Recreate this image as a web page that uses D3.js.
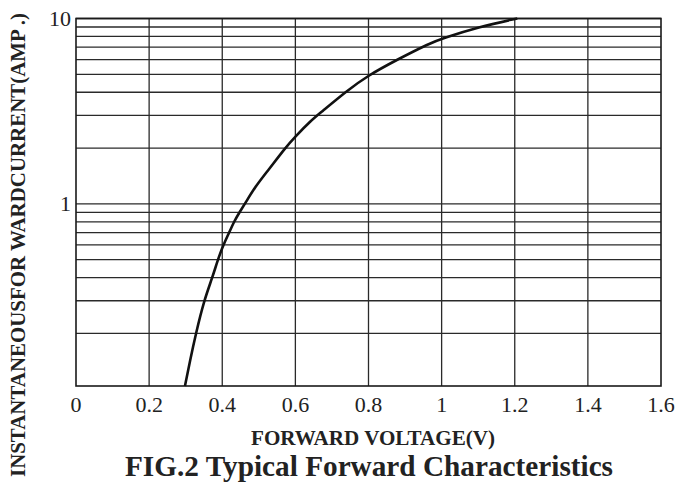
<!DOCTYPE html>
<html><head><meta charset="utf-8">
<script src="https://cdn.jsdelivr.net/npm/d3@7"></script>
<style>body{margin:0;background:#fff}svg{display:block}text{font-family:"Liberation Serif","Times New Roman",Times,serif}</style>
</head><body>
<svg id="c" width="675" height="483"></svg>
<script>
// Data
const voltage = [0.298,0.312,0.328,0.350,0.373,0.388,0.403,0.419,0.432,0.447,0.462,0.490,0.526,0.572,0.599,0.645,0.667,0.740,0.797,0.877,0.968,0.999,1.105,1.207];
const current = [0.104,0.143,0.20,0.30,0.40,0.50,0.60,0.70,0.80,0.90,1.00,1.236,1.52,2.00,2.30,2.84,3.08,4.06,4.90,5.98,7.36,7.77,9.05,10.0];
const xTicks = [0,0.2,0.4,0.6,0.8,1,1.2,1.4,1.6];
const xTickLabels = ["0","0.2","0.4","0.6","0.8","1","1.2","1.4","1.6"];
const yGrid = [0.2,0.3,0.4,0.5,0.6,0.7,0.8,0.9,1,2,3,4,5,6,7,8,9,10];
const yTicks = [1,10];
const yTickLabels = ["1","10"];
const xDomain = [0,1.6];
const yDomain = [0.104,10];
const xTitle = "FORWARD VOLTAGE(V)";
const yTitle = "INSTANTANEOUSFOR WARDCURRENT(AMP .)";
const chartTitle = "FIG.2 Typical Forward Characteristics";

const svg = d3.select("#c");
const L=76,R=661,T=18.5,B=386;
const x = d3.scaleLinear().domain(xDomain).range([L,R]);
const y = d3.scaleLog().domain(yDomain).range([B,T]);

const g = svg.append("g");
g.selectAll("line.h").data(yGrid).join("line")
  .attr("x1",L).attr("x2",R).attr("y1",d=>y(d)).attr("y2",d=>y(d))
  .attr("stroke","#2a2a2a").attr("stroke-width",1.3);
g.selectAll("line.v").data(xTicks.slice(1,-1)).join("line")
  .attr("x1",d=>x(d)).attr("x2",d=>x(d)).attr("y1",T).attr("y2",B)
  .attr("stroke","#2a2a2a").attr("stroke-width",1.3);
g.append("rect").attr("x",L).attr("y",T).attr("width",R-L).attr("height",B-T)
  .attr("fill","none").attr("stroke","#1a1a1a").attr("stroke-width",1.6);

const pts = voltage.map((v,i)=>[v,current[i]]);
g.append("path").datum(pts)
  .attr("d",d3.line().x(d=>x(d[0])).y(d=>y(d[1])).curve(d3.curveBasis))
  .attr("fill","none").attr("stroke","#111").attr("stroke-width",2.6);

// x tick labels
svg.selectAll("text.xt").data(xTicks).join("text")
  .attr("x",d=>x(d)).attr("y",411.5).attr("text-anchor","middle")
  .attr("font-size",22).attr("fill","#222")
  .text((d,i)=>xTickLabels[i]);
// y tick labels
svg.selectAll("text.yt").data(yTicks).join("text")
  .attr("x",71).attr("y",d=>y(d)+7.5).attr("text-anchor","end")
  .attr("font-size",22).attr("fill","#222")
  .text((d,i)=>yTickLabels[i]);

svg.append("text").attr("x",373).attr("y",445).attr("text-anchor","middle")
  .attr("font-weight","bold").attr("font-size",20)
  .attr("fill","#222").attr("textLength",244).attr("lengthAdjust","spacingAndGlyphs").text(xTitle);
svg.append("text").attr("x",369).attr("y",476).attr("text-anchor","middle")
  .attr("font-weight","bold").attr("font-size",29)
  .attr("fill","#222").attr("textLength",488).attr("lengthAdjust","spacingAndGlyphs").text(chartTitle);
svg.append("text").attr("transform","translate(25,477) rotate(-90)")
  .attr("font-weight","bold").attr("font-size",20)
  .attr("fill","#222").attr("textLength",464).attr("lengthAdjust","spacingAndGlyphs").text(yTitle);
</script>
</body></html>
